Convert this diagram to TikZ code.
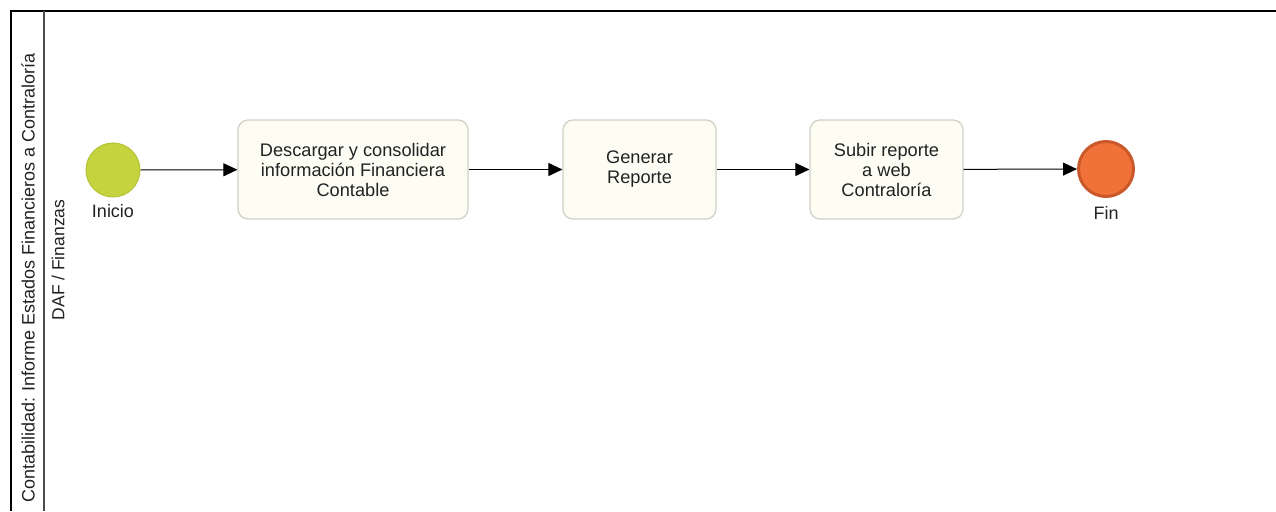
\documentclass[tikz,border=0pt]{standalone}
\usepackage{fontspec}
\setmainfont{Liberation Sans}
\usetikzlibrary{arrows.meta}
\definecolor{startfill}{HTML}{C5D33F}
\definecolor{startline}{HTML}{B5C236}
\definecolor{endfill}{HTML}{F07238}
\definecolor{endline}{HTML}{C9592A}
\definecolor{taskfill}{HTML}{FDFDF4}
\definecolor{taskline}{HTML}{CFCFC4}
\definecolor{inkc}{HTML}{222222}
\tikzset{
  taskbox/.style={draw=taskline, fill=taskfill, line width=1.2pt, rounded corners=10pt,
    minimum height=99pt, align=center, text=inkc,
    font=\fontsize{18.2}{20}\selectfont, inner sep=0pt},
  startev/.style={circle, draw=startline, fill=startfill, line width=1pt, minimum size=54pt, inner sep=0pt},
  endev/.style={circle, draw=endline, fill=endfill, line width=3pt, minimum size=55pt, inner sep=0pt},
  evlabel/.style={font=\fontsize{18}{20}\selectfont, text=inkc},
  flow/.style={draw=black, line width=1pt, -{Triangle[length=14pt, width=13pt]}},
  frame/.style={draw=black, line width=1.2pt}
}
\begin{document}
\begin{tikzpicture}[x=1pt, y=-1pt]
\useasboundingbox (0,0) rectangle (1276,511);
% pool and lane frame
\draw[frame] (1276,11) -- (11,11) -- (11,511);
\draw[draw=black!70, line width=1.2pt] (44,11) -- (44,511);
\node[rotate=90, font=\fontsize{18}{20}\selectfont, text=inkc] (pool) at (28,278)
  {Contabilidad: Informe Estados Financieros a Contraloría};
\node[rotate=90, font=\fontsize{17.5}{20}\selectfont, text=inkc] (lane) at (58,260) {DAF / Finanzas};
% events and tasks
\node[startev] (start) at (113,170) {};
\node[evlabel, anchor=north] (startlbl) at (113,201) {Inicio};
\node[taskbox, minimum width=230pt] (t1) at (353,169.5) {Descargar y consolidar\\información Financiera\\Contable};
\node[taskbox, minimum width=153pt] (t2) at (639.5,169.5) {Generar\\Reporte};
\node[taskbox, minimum width=153pt] (t3) at (886.5,169.5) {Subir reporte\\a web\\Contraloría};
\node[endev] (end) at (1106,169) {};
\node[evlabel, anchor=north] (endlbl) at (1106,203) {Fin};
% sequence flows
\draw[flow] (start) -- (t1);
\draw[flow] (t1) -- (t2);
\draw[flow] (t2) -- (t3);
\draw[flow] (t3) -- (end);
\end{tikzpicture}
\end{document}
